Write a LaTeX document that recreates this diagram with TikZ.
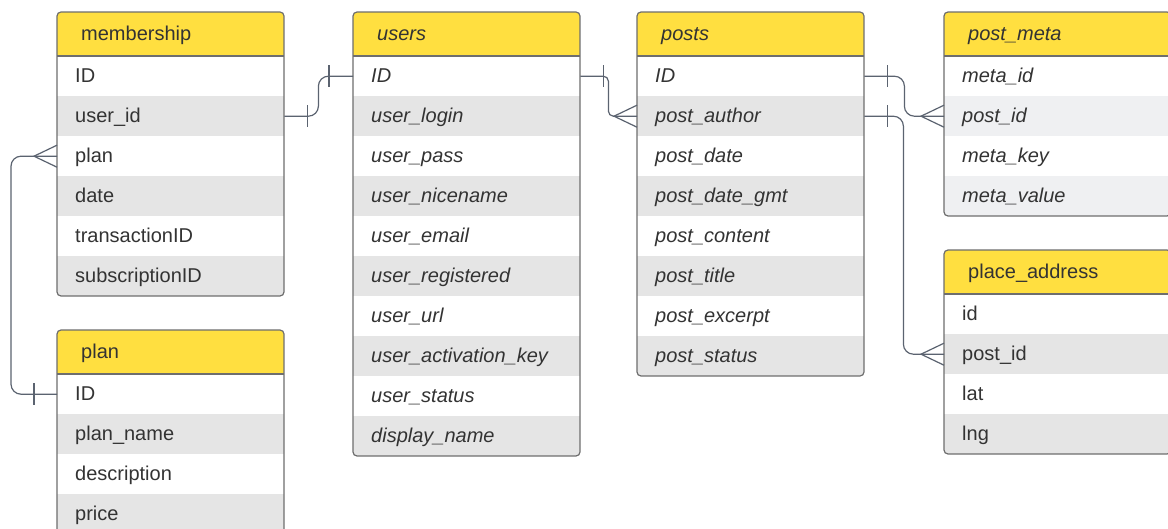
\documentclass[tikz,border=0pt]{standalone}
\usepackage{fontspec}
\setmainfont{Liberation Sans}
\usetikzlibrary{calc}
\definecolor{hdrY}{HTML}{FFDF40}
\definecolor{rowG}{HTML}{E5E5E5}
\definecolor{rowL}{HTML}{EFF0F2}
\definecolor{bord}{HTML}{6E6E6E}
\definecolor{connC}{HTML}{5B6370}
\definecolor{txt}{HTML}{333333}
\tikzset{
 hdr/.style={anchor=north west, inner xsep=24pt, inner ysep=0pt, text width=179pt, minimum height=44pt, text height=12.5pt, text depth=0pt, align=left, fill=hdrY, text=txt},
 rowbox/.style={anchor=north west, inner xsep=18pt, inner ysep=0pt, text width=191pt, minimum height=40pt, text height=12.5pt, text depth=0pt, align=left, text=txt},
 border/.style={draw=bord, line width=1.2pt},
 conn/.style={draw=connC, line width=1.2pt},
}
\newcommand{\erTable}[8]{%
 \begin{scope}
 \clip[rounded corners=4pt] (#2,#3) rectangle ++(227,44+40*#7);
 \fill[white] (#2,#3) rectangle ++(227,44+40*#7);
 \node[hdr, font={\fontsize{20}{24}\selectfont #4}] (#1-h) at (#2,#3) {#5};
 \foreach \rowtxt [count=\i] in {#6} {
   \pgfmathsetmacro\yy{#3+44+40*(\i-1)}
   \ifodd\i\def\rf{white}\else\def\rf{#8}\fi
   \node[rowbox, font={\fontsize{20}{24}\selectfont #4}, fill=\rf] (#1-\i) at (#2,\yy) {\rowtxt};
 }
 \end{scope}
 \draw[border] (#2,#3+44) -- ++(227,0);
 \draw[border, rounded corners=4pt] (#2,#3) rectangle ++(227,44+40*#7);
}
\newcommand{\crowW}[1]{\draw[conn] ($(#1)+(0,-11)$) -- ($(#1)+(-23,0)$) -- ($(#1)+(0,11)$);}
\newcommand{\tickAt}[2]{\draw[conn] ($(#1)+(#2,-11)$) -- ($(#1)+(#2,11)$);}
\begin{document}
\begin{tikzpicture}[x=1pt,y=-1pt]
\useasboundingbox (0,0) rectangle (1168,529);
\clip (0,0) rectangle (1168,529);
\fill[white] (0,0) rectangle (1168,529);

\erTable{membership}{57}{12}{}{membership}{ID,user\_id,plan,date,transactionID,subscriptionID}{6}{rowG}
\erTable{plan}{57}{330}{}{plan}{ID,plan\_name,description,price}{4}{rowG}
\erTable{users}{353}{12}{\itshape}{users}{ID,user\_login,user\_pass,user\_nicename,user\_email,user\_registered,user\_url,user\_activation\_key,user\_status,display\_name}{10}{rowG}
\erTable{posts}{637}{12}{\itshape}{posts}{ID,post\_author,post\_date,post\_date\_gmt,post\_content,post\_title,post\_excerpt,post\_status}{8}{rowG}
\erTable{postmeta}{944}{12}{\itshape}{post\_meta}{meta\_id,post\_id,meta\_key,meta\_value}{4}{rowL}
\erTable{place}{944}{250}{}{place\_address}{id,post\_id,lat,lng}{4}{rowG}

% membership.user_id -- users.ID
\draw[conn, rounded corners=10pt] (membership-2.east) -- ($(membership-2.east)+(34,0)$) |- (users-1.west);
\tickAt{membership-2.east}{23}
\tickAt{users-1.west}{-24}
% users.ID -- posts.post_author
\draw[conn, rounded corners=5pt] (users-1.east) -- ($(users-1.east)+(28,0)$) |- (posts-2.west);
\tickAt{users-1.east}{23}
\crowW{posts-2.west}
% posts.ID -- post_meta.post_id
\draw[conn, rounded corners=10pt] (posts-1.east) -- ($(posts-1.east)+(40,0)$) |- (postmeta-2.west);
\tickAt{posts-1.east}{23}
\crowW{postmeta-2.west}
% posts.post_author -- place_address.post_id
\draw[conn, rounded corners=10pt] (posts-2.east) -- ($(posts-2.east)+(39,0)$) |- (place-2.west);
\tickAt{posts-2.east}{23}
\crowW{place-2.west}
% membership.plan -- plan.ID
\draw[conn, rounded corners=10pt] (membership-3.west) -- ($(membership-3.west)+(-46,0)$) |- (plan-1.west);
\crowW{membership-3.west}
\tickAt{plan-1.west}{-23}
\end{tikzpicture}
\end{document}
